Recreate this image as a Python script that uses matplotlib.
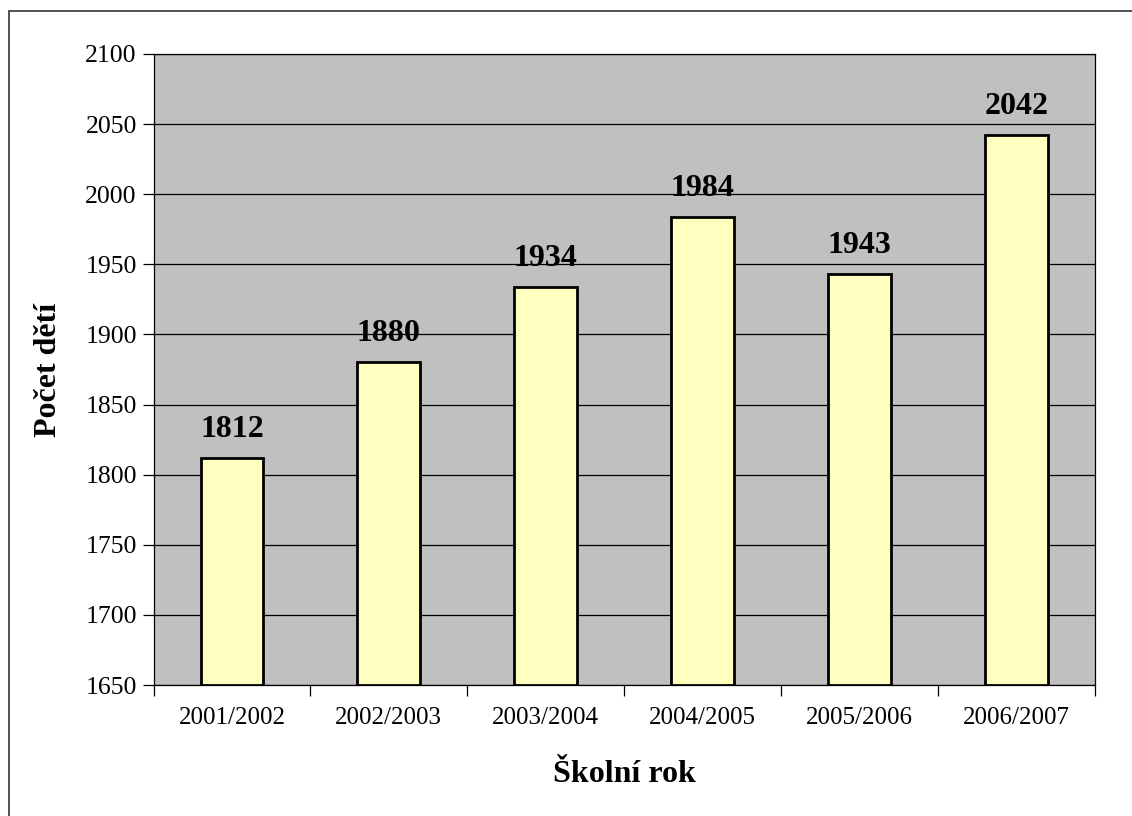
import matplotlib.pyplot as plt
from matplotlib.patches import Rectangle

years = ["2001/2002", "2002/2003", "2003/2004", "2004/2005", "2005/2006", "2006/2007"]
counts = [1812, 1880, 1934, 1984, 1943, 2042]
y_ticks = [1650, 1700, 1750, 1800, 1850, 1900, 1950, 2000, 2050, 2100]

plt.rcParams["font.family"] = ["Liberation Serif", "DejaVu Serif"]

W, H = 1132, 816
fig = plt.figure(figsize=(W / 100, H / 100), dpi=100)
ax = fig.add_axes([153.5 / W, 1 - 685 / H, (1095 - 153.5) / W, (685 - 54) / H])

# outer chart frame (left/top edges visible, rest runs off the image)
fig.patches.append(Rectangle((9 / W, -0.1), 1.2, 1 - 11 / H + 0.1,
                             transform=fig.transFigure, fill=False,
                             edgecolor="#333333", linewidth=1.2))

ax.set_facecolor("#C0C0C0")
x = range(len(years))
ax.bar(x, [c - 1650 for c in counts], bottom=1650, width=0.4,
       color="#FFFFC0", edgecolor="black", linewidth=2, zorder=3)
for xi, c in zip(x, counts):
    ax.text(xi, c + 10, str(c), ha="center", va="bottom",
            fontsize=23, fontweight="bold", zorder=4)

ax.set_xlim(-0.5, len(years) - 0.5)
ax.set_ylim(1650, 2100)
ax.set_yticks(y_ticks)
ax.yaxis.grid(True, color="black", linewidth=0.9, zorder=1)
ax.set_axisbelow(True)

ax.set_xticks([i - 0.5 for i in range(len(years) + 1)])
ax.set_xticklabels([])
ax.set_xticks(list(x), minor=True)
ax.set_xticklabels(years, minor=True, fontsize=18)
ax.tick_params(axis="x", which="major", length=8, width=0.9, direction="out")
ax.tick_params(axis="x", which="minor", length=0, pad=16)
ax.tick_params(axis="y", length=8, width=0.9, labelsize=18.5, pad=4)

for s in ax.spines.values():
    s.set_linewidth(0.9)
    s.set_color("black")

ax.set_ylabel("Počet dětí", fontsize=23, fontweight="bold", labelpad=16)
ax.set_xlabel("Školní rok", fontsize=23, fontweight="bold", labelpad=22)

fig.savefig("out.png", dpi=100)
